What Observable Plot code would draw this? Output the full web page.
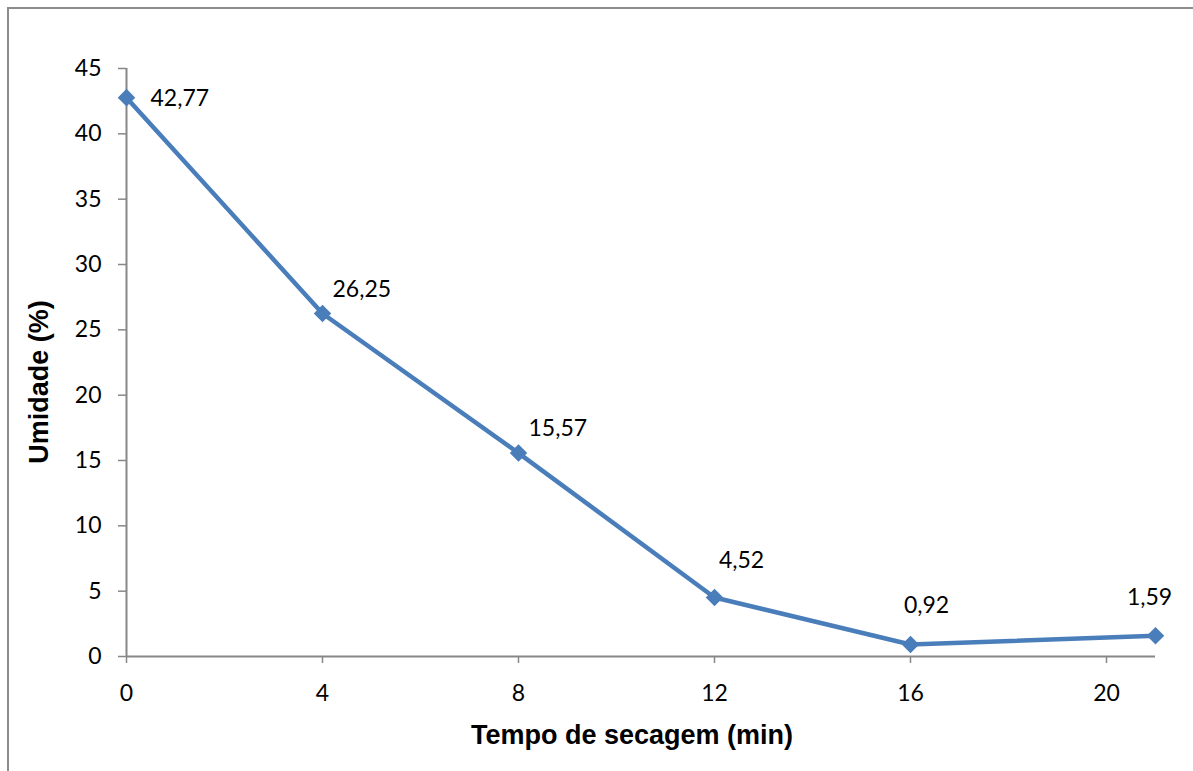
<!DOCTYPE html>
<html>
<head>
<meta charset="utf-8">
<script src="https://cdn.jsdelivr.net/npm/d3@7"></script>
<script src="https://cdn.jsdelivr.net/npm/@observablehq/plot@0.6"></script>
<style>
  html, body { margin: 0; padding: 0; background: #fff; overflow: hidden; }
  #wrap { position: relative; width: 1193px; height: 771px; }
  #wrap svg { position: absolute; left: 0; top: 0; }
  #frame { position: absolute; left: 7px; top: 7px; width: 2000px; height: 2000px;
           border-left: 2px solid #8c8c8c; border-top: 2px solid #8c8c8c; pointer-events: none; }
</style>
</head>
<body>
<div id="wrap"><div id="frame"></div></div>
<script>
const tempo = [0, 4, 8, 12, 16, 21];
const umidade = [42.77, 26.25, 15.57, 4.52, 0.92, 1.59];
const rotulos = ["42,77", "26,25", "15,57", "4,52", "0,92", "1,59"];
const xTicks = [0, 4, 8, 12, 16, 20];
const yTicks = [0, 5, 10, 15, 20, 25, 30, 35, 40, 45];
const xTitle = "Tempo de secagem (min)";
const yTitle = "Umidade (%)";

const data = tempo.map((t, i) => ({t, u: umidade[i], label: rotulos[i], i}));
const blue = "#4a7ebb";
const axisColor = "#878787";
const tickFont = "Lato, 'Open Sans', sans-serif";
const fs = 23;

const chart = Plot.plot({
  width: 1193,
  height: 771,
  marginLeft: 126,
  marginRight: 38,
  marginTop: 68,
  marginBottom: 115,
  style: {fontFamily: tickFont, fontSize: fs + "px", color: "#000", background: "transparent"},
  x: {domain: [0, 21], ticks: xTicks, label: null},
  y: {domain: [0, 45], ticks: yTicks, label: null},
  marks: [
    Plot.axisX({ticks: xTicks, tickSize: 7, tickPadding: 21, stroke: axisColor, strokeWidth: 1.5,
                fill: "#000", fontSize: fs, label: null}),
    Plot.axisY({ticks: yTicks, tickSize: 8, tickPadding: 17, stroke: axisColor, strokeWidth: 1.5,
                fill: "#000", fontSize: fs, label: null}),
    Plot.ruleY([0], {stroke: axisColor, strokeWidth: 2}),
    Plot.ruleX([0], {stroke: axisColor, strokeWidth: 2}),
    Plot.line(data, {x: "t", y: "u", stroke: blue, strokeWidth: 4.5}),
    Plot.dot(data, {x: "t", y: "u", symbol: "square", r: 7, rotate: 45, fill: blue, stroke: null}),
    Plot.text(data.filter(d => d.i === 0), {x: "t", y: "u", text: "label", textAnchor: "start", dx: 24, dy: 1, fontSize: fs}),
    Plot.text(data.filter(d => d.i === 1 || d.i === 2), {x: "t", y: "u", text: "label", textAnchor: "start", dx: 10, dy: -24, fontSize: fs}),
    Plot.text(data.filter(d => d.i === 3), {x: "t", y: "u", text: "label", textAnchor: "middle", dx: 27, dy: -37, fontSize: fs}),
    Plot.text(data.filter(d => d.i === 4), {x: "t", y: "u", text: "label", textAnchor: "middle", dx: 16, dy: -39, fontSize: fs}),
    Plot.text(data.filter(d => d.i === 5), {x: "t", y: "u", text: "label", textAnchor: "middle", dx: -6, dy: -38, fontSize: fs})
  ]
});

const svg = d3.select(chart);
svg.append("text")
  .attr("x", 632).attr("y", 737)
  .attr("text-anchor", "middle").attr("dominant-baseline", "middle")
  .attr("font-family", "'Liberation Sans', Arial, sans-serif")
  .attr("font-weight", "bold").attr("font-size", 27)
  .attr("fill", "#000")
  .text(xTitle);
svg.append("text")
  .attr("transform", "translate(41,382) rotate(-90)")
  .attr("text-anchor", "middle").attr("dominant-baseline", "middle")
  .attr("font-family", "'Liberation Sans', Arial, sans-serif")
  .attr("font-weight", "bold").attr("font-size", 27)
  .attr("fill", "#000")
  .text(yTitle);

document.getElementById("wrap").insertBefore(chart, document.getElementById("frame"));
</script>
</body>
</html>
